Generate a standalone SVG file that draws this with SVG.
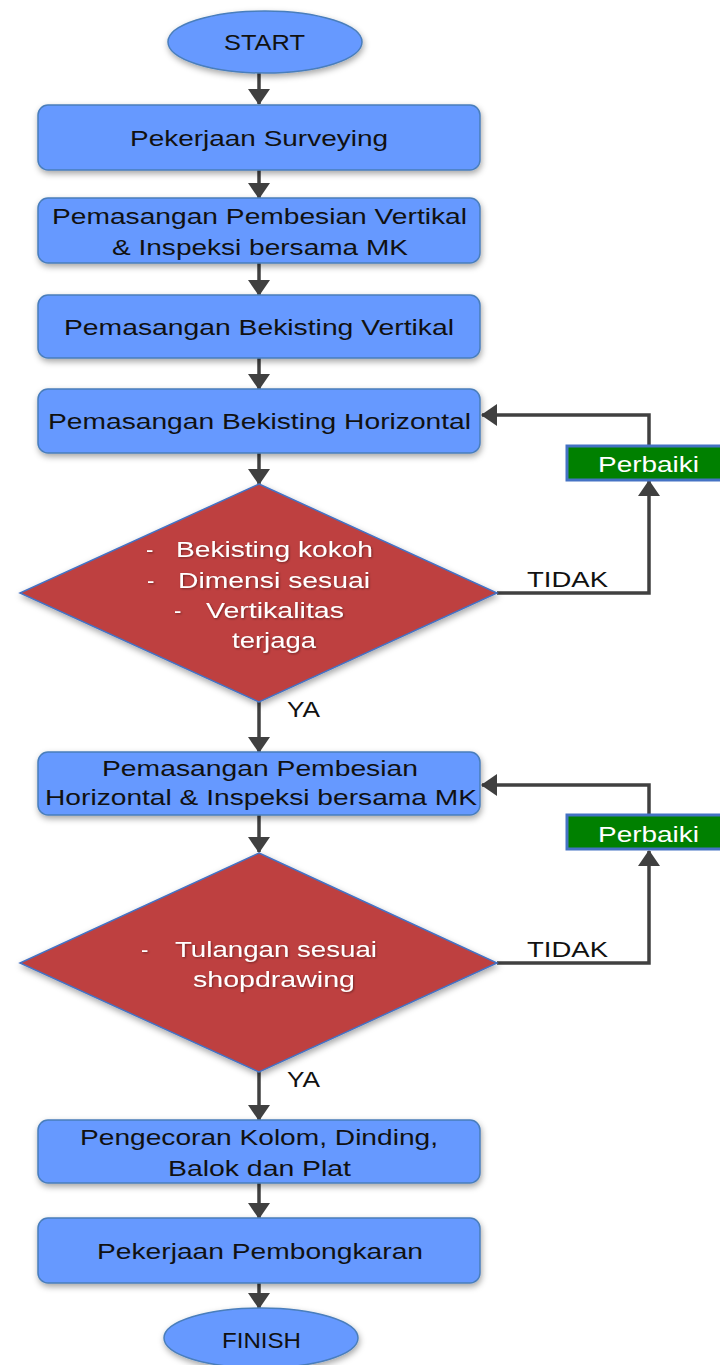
<svg xmlns="http://www.w3.org/2000/svg" width="720" height="1365" viewBox="0 0 720 1365">
<style>
.box{fill:#6699FF;stroke:#4A7EBB;stroke-width:1.5}
.term{fill:#6699FF;stroke:#4A7EBB;stroke-width:1.5}
.dia{fill:#BE4040;stroke:#4472C4;stroke-width:1.5}
.fix{fill:#008000;stroke:#4472C4;stroke-width:3}
.t{font-family:"Liberation Sans",Arial,sans-serif;font-size:22px;fill:#111111}
.w{font-family:"Liberation Sans",Arial,sans-serif;font-size:22px;fill:#FFFFFF}
.c{stroke:#404040;stroke-width:3.5;fill:none}
</style>
<defs>
<filter id="sh" x="-10%" y="-20%" width="120%" height="150%">
<feDropShadow dx="1" dy="3" stdDeviation="3" flood-color="#000000" flood-opacity="0.35"/>
</filter>
<filter id="tsh" x="-10%" y="-30%" width="120%" height="160%">
<feDropShadow dx="1" dy="1" stdDeviation="1" flood-color="#000000" flood-opacity="0.4"/>
</filter>
<marker id="ah" viewBox="0 0 16 22" markerUnits="userSpaceOnUse" markerWidth="16" markerHeight="22" refX="15" refY="11" orient="auto">
<path d="M0,0 L16,11 L0,22 z" fill="#404040"/>
</marker>
</defs>

<g id="connectors">
<line class="c" x1="259" y1="73" x2="259" y2="104" marker-end="url(#ah)"/>
<line class="c" x1="259" y1="170" x2="259" y2="198" marker-end="url(#ah)"/>
<line class="c" x1="259" y1="263" x2="259" y2="295" marker-end="url(#ah)"/>
<line class="c" x1="259" y1="358" x2="259" y2="389" marker-end="url(#ah)"/>
<line class="c" x1="259" y1="453" x2="259" y2="484" marker-end="url(#ah)"/>
<line class="c" x1="259" y1="702" x2="259" y2="752" marker-end="url(#ah)"/>
<line class="c" x1="259" y1="815" x2="259" y2="852" marker-end="url(#ah)"/>
<line class="c" x1="259" y1="1072" x2="259" y2="1120" marker-end="url(#ah)"/>
<line class="c" x1="259" y1="1183" x2="259" y2="1218" marker-end="url(#ah)"/>
<line class="c" x1="259" y1="1283" x2="259" y2="1308" marker-end="url(#ah)"/>
<polyline class="c" points="497,593 649,593 649,481" marker-end="url(#ah)"/>
<polyline class="c" points="649,445 649,415 482,415" marker-end="url(#ah)"/>
<polyline class="c" points="497,963 649,963 649,851" marker-end="url(#ah)"/>
<polyline class="c" points="649,814 649,785 482,785" marker-end="url(#ah)"/>
<text class="t" x="527" y="587" textLength="81" lengthAdjust="spacingAndGlyphs">TIDAK</text>
<text class="t" x="527" y="957" textLength="81" lengthAdjust="spacingAndGlyphs">TIDAK</text>
<text class="t" x="287" y="717" textLength="33" lengthAdjust="spacingAndGlyphs">YA</text>
<text class="t" x="287" y="1087" textLength="33" lengthAdjust="spacingAndGlyphs">YA</text>
</g>

<g id="start">
<ellipse class="term" cx="265" cy="42" rx="97" ry="31" filter="url(#sh)"/>
<text class="t" x="224" y="50" textLength="81" lengthAdjust="spacingAndGlyphs">START</text>
</g>

<g id="surveying">
<rect class="box" x="38" y="105" width="442" height="65" rx="10" filter="url(#sh)"/>
<text class="t" x="130" y="146" textLength="258" lengthAdjust="spacingAndGlyphs">Pekerjaan Surveying</text>
</g>

<g id="pembesian-vertikal">
<rect class="box" x="38" y="198" width="442" height="65" rx="10" filter="url(#sh)"/>
<text class="t" x="52" y="224" textLength="415" lengthAdjust="spacingAndGlyphs">Pemasangan Pembesian Vertikal</text>
<text class="t" x="112" y="255" textLength="296" lengthAdjust="spacingAndGlyphs">&amp; Inspeksi bersama MK</text>
</g>

<g id="bekisting-vertikal">
<rect class="box" x="38" y="295" width="442" height="63" rx="10" filter="url(#sh)"/>
<text class="t" x="64" y="335" textLength="390" lengthAdjust="spacingAndGlyphs">Pemasangan Bekisting Vertikal</text>
</g>

<g id="bekisting-horizontal">
<rect class="box" x="38" y="389" width="442" height="64" rx="10" filter="url(#sh)"/>
<text class="t" x="48" y="429" textLength="423" lengthAdjust="spacingAndGlyphs">Pemasangan Bekisting Horizontal</text>
</g>

<g id="perbaiki-1">
<rect class="fix" x="567" y="446" width="160" height="34"/>
<text class="w" x="598" y="472" textLength="101" lengthAdjust="spacingAndGlyphs">Perbaiki</text>
</g>

<g id="cek-bekisting">
<polygon class="dia" points="259,484 497,593 259,702 20,593" filter="url(#sh)"/>
<g filter="url(#tsh)">
<text class="w" x="146" y="557">-</text>
<text class="w" x="176" y="557" textLength="197" lengthAdjust="spacingAndGlyphs">Bekisting kokoh</text>
<text class="w" x="147" y="588">-</text>
<text class="w" x="178" y="588" textLength="192" lengthAdjust="spacingAndGlyphs">Dimensi sesuai</text>
<text class="w" x="174" y="618">-</text>
<text class="w" x="206" y="618" textLength="138" lengthAdjust="spacingAndGlyphs">Vertikalitas</text>
<text class="w" x="232" y="648" textLength="84" lengthAdjust="spacingAndGlyphs">terjaga</text>
</g>
</g>

<g id="pembesian-horizontal">
<rect class="box" x="38" y="752" width="442" height="63" rx="10" filter="url(#sh)"/>
<text class="t" x="102" y="776" textLength="316" lengthAdjust="spacingAndGlyphs">Pemasangan Pembesian</text>
<text class="t" x="45" y="805" textLength="432" lengthAdjust="spacingAndGlyphs">Horizontal &amp; Inspeksi bersama MK</text>
</g>

<g id="perbaiki-2">
<rect class="fix" x="567" y="815" width="160" height="34"/>
<text class="w" x="598" y="842" textLength="101" lengthAdjust="spacingAndGlyphs">Perbaiki</text>
</g>

<g id="cek-tulangan">
<polygon class="dia" points="259,853 497,963 259,1072 20,963" filter="url(#sh)"/>
<g filter="url(#tsh)">
<text class="w" x="141" y="957">-</text>
<text class="w" x="175" y="957" textLength="202" lengthAdjust="spacingAndGlyphs">Tulangan sesuai</text>
<text class="w" x="193" y="987" textLength="162" lengthAdjust="spacingAndGlyphs">shopdrawing</text>
</g>
</g>

<g id="pengecoran">
<rect class="box" x="38" y="1120" width="442" height="63" rx="10" filter="url(#sh)"/>
<text class="t" x="80" y="1145" textLength="358" lengthAdjust="spacingAndGlyphs">Pengecoran Kolom, Dinding,</text>
<text class="t" x="168" y="1176" textLength="183" lengthAdjust="spacingAndGlyphs">Balok dan Plat</text>
</g>

<g id="pembongkaran">
<rect class="box" x="38" y="1218" width="442" height="65" rx="10" filter="url(#sh)"/>
<text class="t" x="97" y="1259" textLength="326" lengthAdjust="spacingAndGlyphs">Pekerjaan Pembongkaran</text>
</g>

<g id="finish">
<ellipse class="term" cx="261" cy="1338" rx="97" ry="30" filter="url(#sh)"/>
<text class="t" x="222" y="1348" textLength="79" lengthAdjust="spacingAndGlyphs">FINISH</text>
</g>
</svg>
